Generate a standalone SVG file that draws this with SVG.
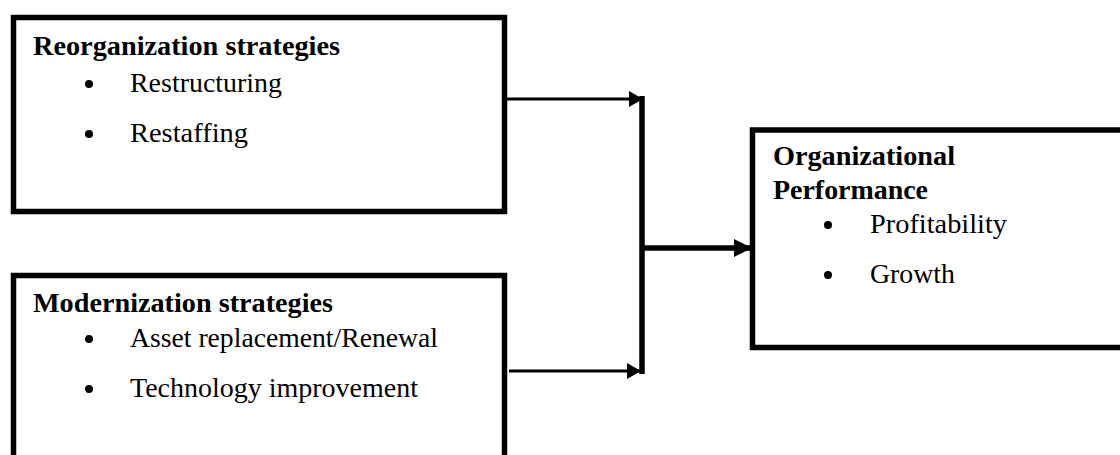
<svg xmlns="http://www.w3.org/2000/svg" width="1120" height="455" viewBox="0 0 1120 455">
  <style>
    .box { fill: #fff; stroke: #000; stroke-width: 5.5; }
    .title { font-family: 'Liberation Serif', 'Times New Roman', Times, serif; font-size: 28px; font-weight: bold; fill: #000; }
    .item { font-family: 'Liberation Serif', 'Times New Roman', Times, serif; font-size: 28px; fill: #000; }
    .bullet { fill: #000; }
    .conn { stroke: #000; fill: none; }
  </style>
  <defs>
    <marker id="arrowS" markerUnits="userSpaceOnUse" markerWidth="14" markerHeight="16" refX="14" refY="8" orient="auto">
      <path d="M0,0 L14,8 L0,16 Z" fill="#000"/>
    </marker>
    <marker id="arrowL" markerUnits="userSpaceOnUse" markerWidth="18" markerHeight="18" refX="18" refY="9" orient="auto">
      <path d="M0,0 L18,9 L0,18 Z" fill="#000"/>
    </marker>
  </defs>
  <rect width="1120" height="455" fill="#fff"/>

  <g id="connectors">
    <line class="conn" x1="507" y1="99" x2="643" y2="99" stroke-width="3" marker-end="url(#arrowS)"/>
    <line class="conn" x1="509" y1="371" x2="641" y2="371" stroke-width="3" marker-end="url(#arrowS)"/>
    <line class="conn" x1="642" y1="96" x2="642" y2="374" stroke-width="5.5"/>
    <line class="conn" x1="642" y1="248" x2="752" y2="248" stroke-width="5.5" marker-end="url(#arrowL)"/>
  </g>

  <g id="reorganization">
    <rect class="box" x="13.5" y="17.5" width="491" height="194"/>
    <text class="title" x="33" y="55" textLength="307" lengthAdjust="spacingAndGlyphs">Reorganization strategies</text>
    <circle class="bullet" cx="89" cy="84" r="4"/>
    <text class="item" x="130" y="92" textLength="152" lengthAdjust="spacingAndGlyphs">Restructuring</text>
    <circle class="bullet" cx="89" cy="134" r="4"/>
    <text class="item" x="130" y="142" textLength="118" lengthAdjust="spacingAndGlyphs">Restaffing</text>
  </g>

  <g id="modernization">
    <rect class="box" x="13.5" y="275.5" width="491" height="190"/>
    <text class="title" x="33" y="312" textLength="300" lengthAdjust="spacingAndGlyphs">Modernization strategies</text>
    <circle class="bullet" cx="89" cy="339" r="4"/>
    <text class="item" x="130" y="347" textLength="308" lengthAdjust="spacingAndGlyphs">Asset replacement/Renewal</text>
    <circle class="bullet" cx="89" cy="389" r="4"/>
    <text class="item" x="130" y="397" textLength="288" lengthAdjust="spacingAndGlyphs">Technology improvement</text>
  </g>

  <g id="performance">
    <rect class="box" x="752.5" y="130" width="380" height="217.5"/>
    <text class="title" x="773" y="165" textLength="182" lengthAdjust="spacingAndGlyphs">Organizational</text>
    <text class="title" x="773" y="199" textLength="155" lengthAdjust="spacingAndGlyphs">Performance</text>
    <circle class="bullet" cx="828" cy="225" r="4"/>
    <text class="item" x="870" y="233" textLength="137" lengthAdjust="spacingAndGlyphs">Profitability</text>
    <circle class="bullet" cx="828" cy="275" r="4"/>
    <text class="item" x="870" y="283" textLength="85" lengthAdjust="spacingAndGlyphs">Growth</text>
  </g>
</svg>
